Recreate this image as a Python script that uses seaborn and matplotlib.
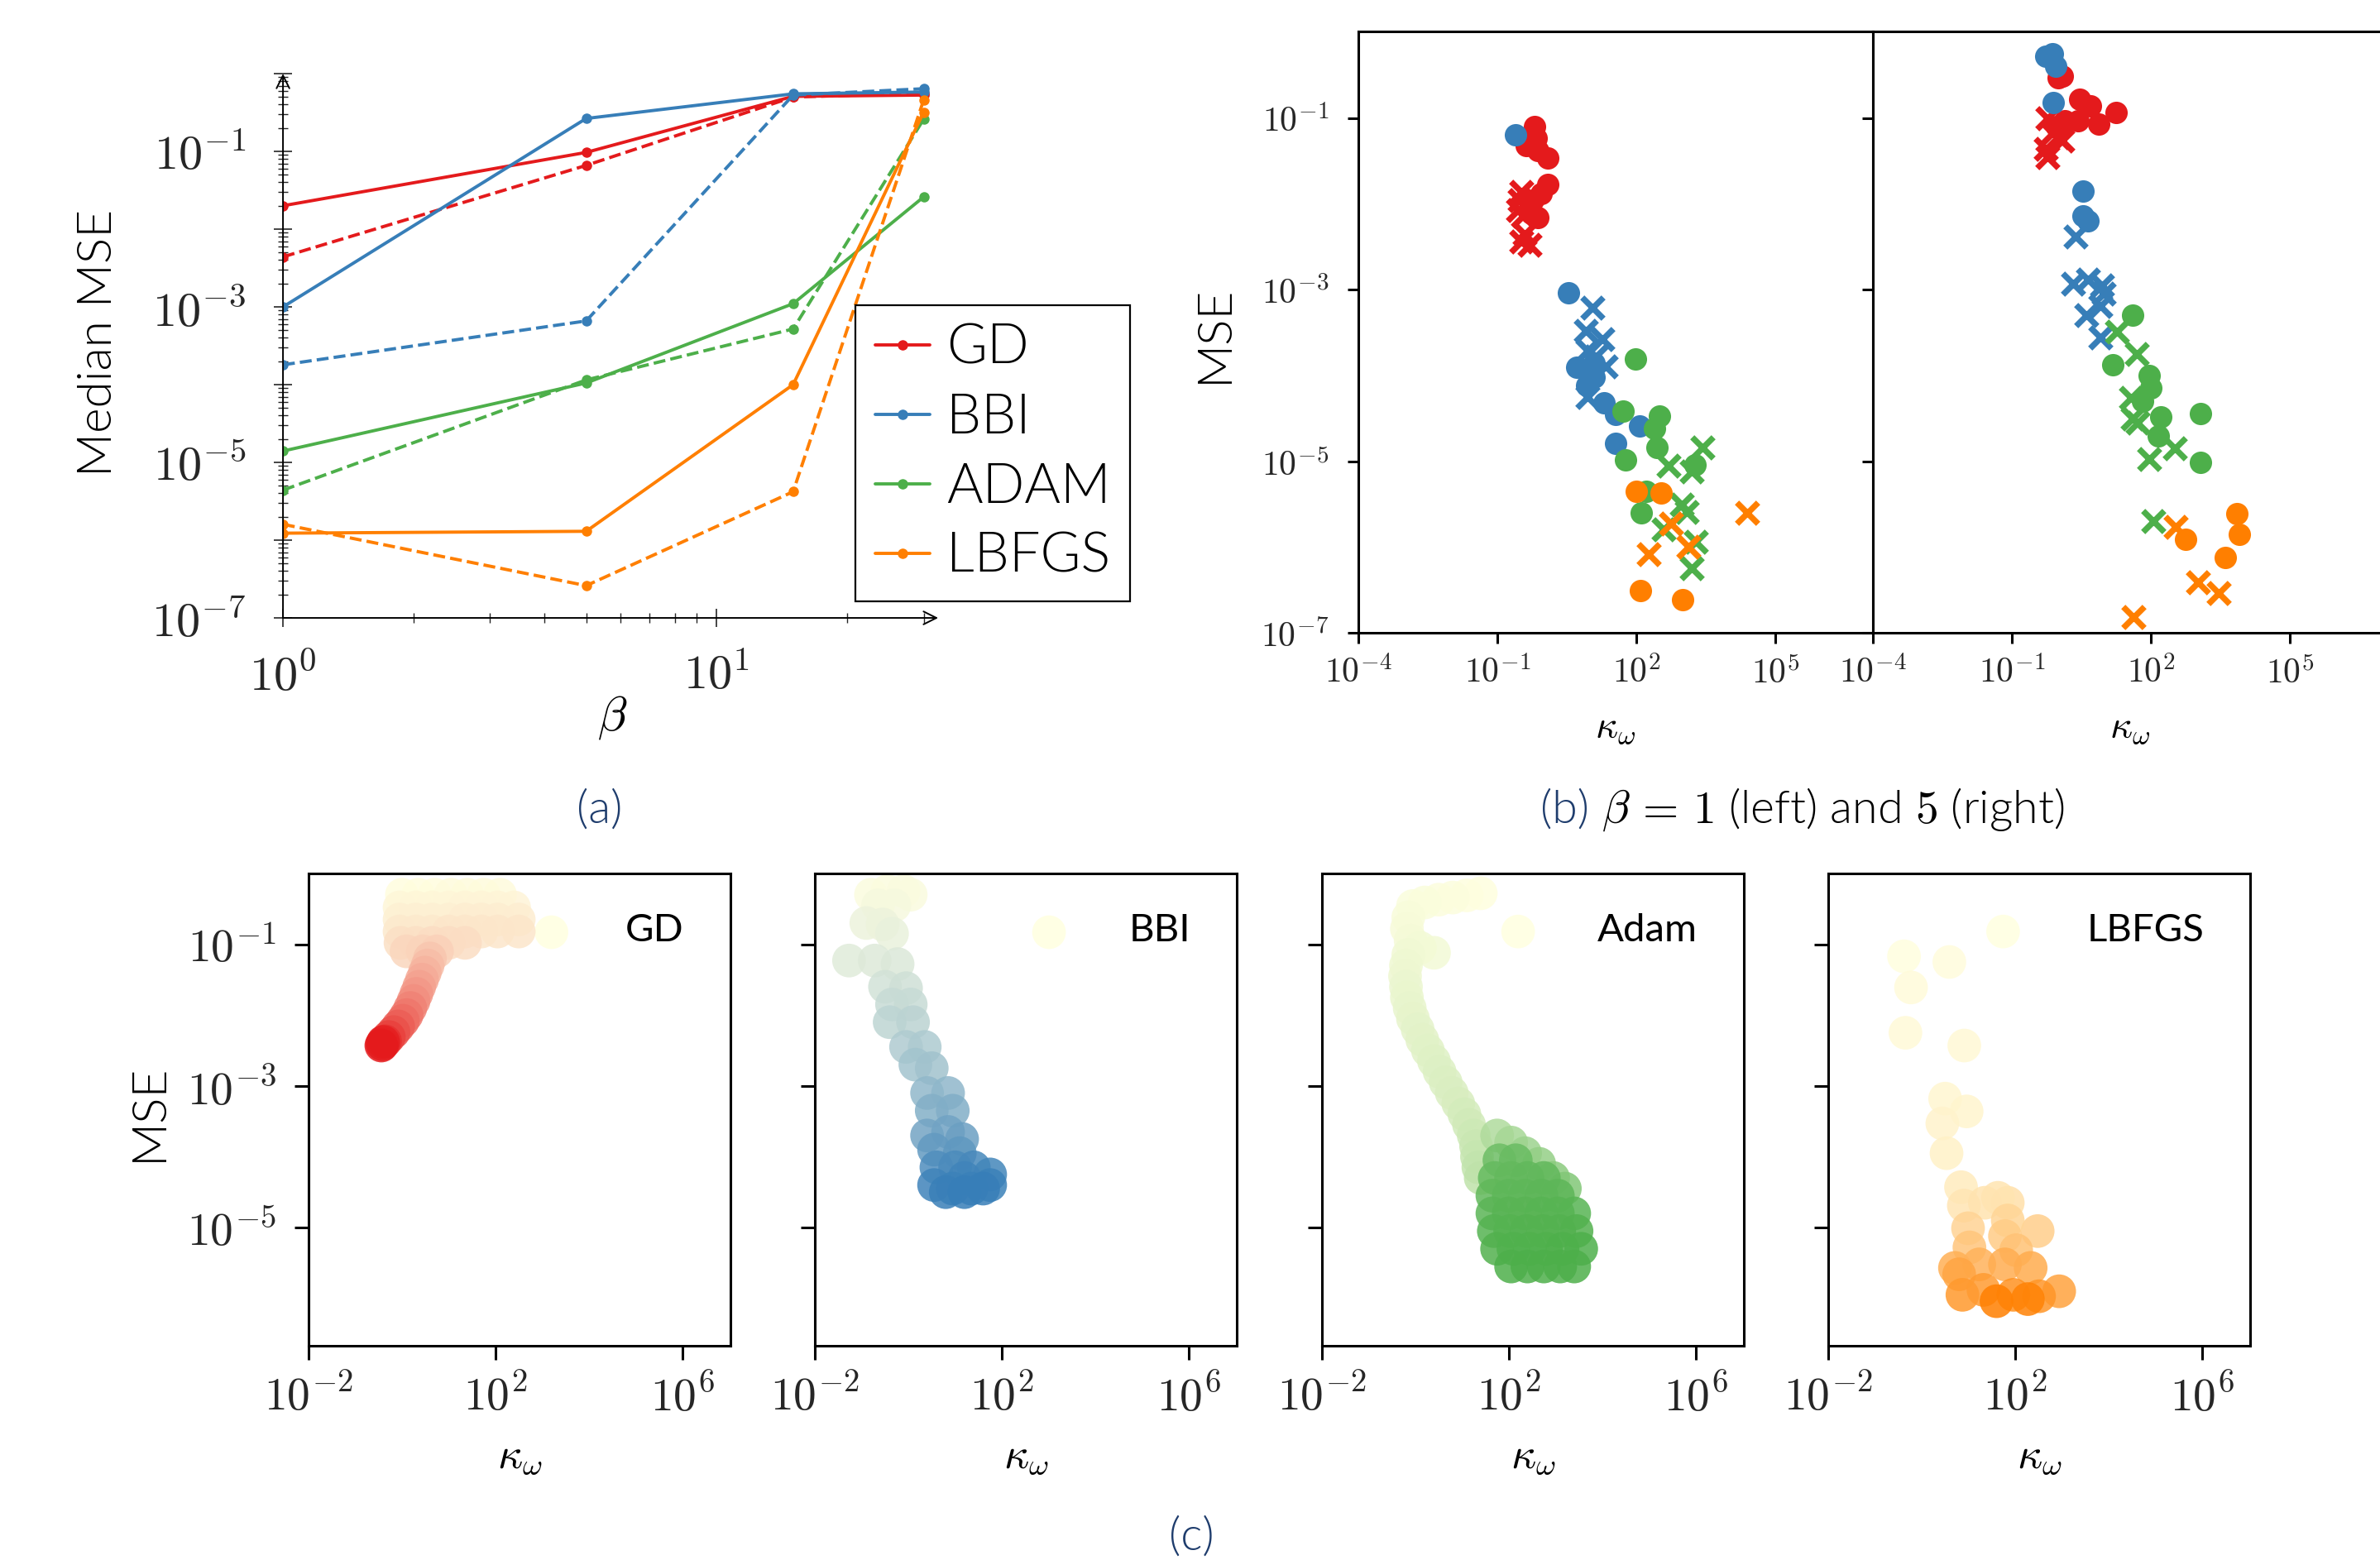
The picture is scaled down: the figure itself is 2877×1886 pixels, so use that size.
import numpy as np
import matplotlib
matplotlib.use("Agg")
import matplotlib.pyplot as plt
from matplotlib.colors import LinearSegmentedColormap
from matplotlib.ticker import LogLocator, FuncFormatter, NullLocator
import seaborn as sns

# ---------------- data ----------------
methods = ["GD", "BBI", "ADAM", "LBFGS"]
colors = ["#e41a1c", "#377eb8", "#4daf4a", "#ff7f00"]

# (a) median MSE vs beta, solid and dashed settings
beta = [1, 5, 15, 30]
gd_solid = [2.0e-2, 9.7e-2, 5.1e-1, 5.3e-1]
gd_dashed = [4.4e-3, 6.6e-2, 5.0e-1, 5.6e-1]
bbi_solid = [1.0e-3, 2.65e-1, 5.5e-1, 5.8e-1]
bbi_dashed = [1.8e-4, 6.6e-4, 5.3e-1, 6.4e-1]
adam_solid = [1.4e-5, 1.05e-4, 1.1e-3, 2.6e-2]
adam_dashed = [4.4e-6, 1.15e-4, 5.2e-4, 2.6e-1]
lbfgs_solid = [1.23e-6, 1.3e-6, 1.0e-4, 3.2e-1]
lbfgs_dashed = [1.6e-6, 2.6e-7, 4.2e-6, 4.6e-1]

# (b) log10(kappa), log10(MSE); beta = 1 (b1) and beta = 5 (b5); dots and crosses
b1_gd_dot_k = [-0.20, -0.16, -0.37, -0.13, 0.08, 0.08, -0.06, -0.23, -0.13, -0.27]
b1_gd_dot_m = [-1.10, -1.23, -1.32, -1.38, -1.46, -1.77, -1.88, -1.96, -2.16, -2.11]
b1_gd_x_k = [-0.48, -0.51, -0.55, -0.44, -0.41, -0.30, -0.48]
b1_gd_x_m = [-1.86, -1.96, -2.07, -2.14, -2.35, -2.48, -2.44]
b1_bbi_dot_k = [-0.60, 0.54, 0.71, 0.92, 1.09, 1.09, 1.30, 1.55, 2.07, 1.55]
b1_bbi_dot_m = [-1.19, -3.04, -3.90, -4.12, -4.02, -3.86, -4.32, -4.45, -4.59, -4.79]
b1_bbi_x_k = [1.06, 0.91, 1.27, 0.95, 1.13, 1.34, 0.95]
b1_bbi_x_m = [-3.21, -3.48, -3.58, -3.71, -3.78, -3.89, -4.25]
b1_adam_dot_k = [1.98, 1.72, 2.49, 2.39, 2.45, 1.77, 3.26, 2.21, 2.11]
b1_adam_dot_m = [-3.81, -4.42, -4.47, -4.62, -4.84, -4.98, -5.04, -5.35, -5.60]
b1_adam_x_k = [3.42, 2.70, 3.19, 2.98, 3.08, 2.59, 3.29, 3.19]
b1_adam_x_m = [-4.84, -5.05, -5.12, -5.51, -5.59, -5.79, -5.94, -6.25]
b1_lbfgs_dot_k = [2.00, 2.54, 2.09, 3.00]
b1_lbfgs_dot_m = [-5.35, -5.37, -6.51, -6.61]
b1_lbfgs_x_k = [4.39, 2.75, 2.27, 3.12]
b1_lbfgs_x_m = [-5.60, -5.73, -6.08, -6.00]

b5_gd_dot_k = [0.08, 0.00, 0.46, 0.70, 1.24, 0.88, 0.43, 0.15, -0.03]
b5_gd_dot_m = [-0.51, -0.53, -0.78, -0.86, -0.93, -1.07, -1.03, -1.03, -1.10]
b5_gd_x_k = [-0.24, -0.13, 0.08, -0.27, -0.24, 0.00]
b5_gd_x_m = [-1.00, -1.17, -1.26, -1.36, -1.45, -1.22]
b5_bbi_dot_k = [-0.27, -0.13, -0.06, -0.10, 0.54, 0.53, 0.65]
b5_bbi_dot_m = [-0.28, -0.25, -0.39, -0.82, -1.85, -2.14, -2.20]
b5_bbi_x_k = [0.37, 0.32, 0.65, 0.95, 0.98, 0.91, 0.60, 0.91]
b5_bbi_x_m = [-2.38, -2.93, -2.88, -2.95, -3.05, -3.19, -3.30, -3.56]
b5_adam_dot_k = [1.61, 1.18, 1.96, 2.00, 1.82, 2.22, 3.06, 2.16, 3.06]
b5_adam_dot_m = [-3.30, -3.88, -4.00, -4.15, -4.30, -4.48, -4.44, -4.70, -5.01]
b5_adam_x_k = [1.26, 1.69, 1.57, 1.61, 1.71, 2.52, 1.97, 2.06]
b5_adam_x_m = [-3.49, -3.75, -4.26, -4.50, -4.55, -4.85, -4.97, -5.70]
b5_lbfgs_dot_k = [3.86, 3.91, 2.74, 3.61]
b5_lbfgs_dot_m = [-5.61, -5.85, -5.91, -6.12]
b5_lbfgs_x_k = [2.53, 3.02, 3.46, 1.63]
b5_lbfgs_x_m = [-5.77, -6.41, -6.54, -6.82]

# (c) training trajectories: (log10 kappa, log10 MSE, iteration %)
gd_traj = [
    (3.20, -0.83, 0),
    (0.00, -0.30, 1), (0.35, -0.30, 1), (0.70, -0.30, 1), (1.05, -0.30, 2), (1.40, -0.30, 2), (1.75, -0.30, 2), (2.10, -0.30, 2),
    (-0.05, -0.48, 4), (0.30, -0.48, 4), (0.65, -0.48, 4), (1.00, -0.48, 4), (1.35, -0.48, 5), (1.70, -0.48, 5), (2.05, -0.48, 5), (2.40, -0.48, 5),
    (-0.05, -0.65, 7), (0.30, -0.65, 7), (0.65, -0.65, 7), (1.00, -0.65, 7), (1.35, -0.65, 8), (1.70, -0.65, 8), (2.05, -0.65, 8), (2.50, -0.65, 8),
    (-0.05, -0.82, 10), (0.30, -0.82, 10), (0.65, -0.82, 10), (1.00, -0.82, 11), (1.35, -0.82, 11), (1.70, -0.82, 11), (2.05, -0.82, 11), (2.50, -0.82, 11),
    (-0.03, -0.98, 14), (0.30, -0.98, 14), (0.65, -0.98, 15), (1.00, -0.98, 15), (1.35, -0.98, 15),
    (0.10, -1.10, 18), (0.45, -1.10, 19), (0.75, -1.10, 20),
    (0.60, -1.20, 25), (0.55, -1.30, 29), (0.49, -1.40, 33), (0.43, -1.50, 37), (0.37, -1.60, 41), (0.31, -1.70, 45),
    (0.25, -1.80, 49), (0.18, -1.90, 54), (0.10, -2.00, 59), (0.02, -2.08, 64), (-0.08, -2.16, 70), (-0.18, -2.24, 76),
    (-0.28, -2.31, 83), (-0.36, -2.37, 90), (-0.42, -2.41, 95), (-0.40, -2.38, 98), (-0.44, -2.43, 100),
]
bbi_traj = [
    (3.01, -0.83, 0),
    (-0.80, -0.30, 2), (-0.45, -0.25, 2), (-0.10, -0.25, 3), (0.05, -0.30, 3), (-0.65, -0.45, 5), (-0.30, -0.45, 5),
    (-0.90, -0.70, 9), (-0.55, -0.72, 9), (-0.35, -0.85, 11),
    (-1.27, -1.23, 16), (-0.72, -1.23, 17), (-0.23, -1.28, 18),
    (-0.50, -1.60, 23), (-0.05, -1.62, 24), (-0.35, -1.85, 28), (0.05, -1.85, 28),
    (-0.40, -2.10, 33), (0.10, -2.10, 34),
    (-0.05, -2.45, 40), (0.35, -2.45, 41), (0.15, -2.70, 46), (0.50, -2.75, 47),
    (0.40, -3.10, 55), (0.85, -3.10, 56), (0.50, -3.35, 62), (0.95, -3.35, 63),
    (0.40, -3.70, 70), (0.85, -3.65, 71), (1.15, -3.75, 74), (0.55, -3.90, 78), (1.10, -3.95, 80),
    (0.60, -4.15, 88), (1.00, -4.15, 90), (1.40, -4.15, 92), (1.75, -4.25, 94), (1.20, -4.30, 95),
    (0.55, -4.40, 96), (0.95, -4.45, 97), (1.35, -4.45, 98), (1.75, -4.40, 98), (0.80, -4.50, 99),
    (1.20, -4.50, 100), (1.60, -4.45, 100),
]
adam_traj = [
    (2.20, -0.82, 0),
    (1.40, -0.28, 1), (1.10, -0.31, 1), (0.80, -0.34, 2), (0.50, -0.37, 2), (0.20, -0.41, 3), (-0.05, -0.46, 3),
    (-0.15, -0.62, 4), (-0.18, -0.78, 5), (-0.10, -0.95, 6), (0.10, -1.05, 7), (0.40, -1.12, 7), (-0.15, -1.15, 8),
    (-0.20, -1.30, 9), (-0.22, -1.45, 10), (-0.20, -1.60, 11), (-0.18, -1.75, 12), (-0.12, -1.90, 13), (-0.05, -2.05, 14),
    (0.05, -2.20, 15), (0.15, -2.35, 16), (0.27, -2.50, 17), (0.40, -2.65, 18), (0.52, -2.80, 19), (0.65, -2.95, 20),
    (0.78, -3.10, 21), (0.92, -3.25, 22), (1.05, -3.40, 24), (1.15, -3.55, 26), (1.25, -3.70, 28), (1.30, -3.85, 30),
    (1.32, -4.00, 32), (1.35, -4.15, 34), (1.40, -4.30, 36),
    (1.75, -3.70, 45), (2.05, -3.80, 50), (2.35, -3.95, 55), (2.65, -4.10, 60), (2.95, -4.30, 65), (3.20, -4.45, 70),
    (1.80, -4.05, 82), (2.15, -4.05, 84),
    (1.70, -4.30, 86), (2.05, -4.30, 87), (2.40, -4.30, 88), (2.75, -4.30, 88),
    (1.65, -4.55, 89), (2.00, -4.55, 90), (2.35, -4.55, 90), (2.70, -4.55, 91), (3.05, -4.55, 91),
    (1.65, -4.80, 92), (2.00, -4.80, 93), (2.35, -4.80, 93), (2.70, -4.80, 94), (3.05, -4.80, 94), (3.40, -4.80, 94),
    (1.68, -5.05, 95), (2.03, -5.05, 95), (2.38, -5.05, 96), (2.73, -5.05, 96), (3.08, -5.05, 96), (3.45, -5.05, 97),
    (1.75, -5.30, 97), (2.10, -5.30, 98), (2.45, -5.30, 98), (2.80, -5.30, 98), (3.15, -5.30, 99), (3.55, -5.30, 99),
    (2.05, -5.55, 100), (2.40, -5.55, 100), (2.75, -5.55, 100), (3.10, -5.55, 100), (3.40, -5.55, 100),
]
lbfgs_traj = [
    (1.74, -0.82, 0), (-0.38, -1.17, 1), (0.59, -1.25, 2), (-0.23, -1.61, 3), (-0.35, -2.25, 4),
    (0.91, -2.43, 5), (0.50, -3.18, 7), (0.96, -3.36, 8), (0.44, -3.53, 9), (0.53, -3.95, 11),
    (0.84, -4.43, 16), (0.90, -4.69, 20), (1.35, -4.65, 22), (1.84, -4.65, 24), (1.63, -4.58, 21),
    (2.48, -5.05, 38), (0.99, -5.01, 34), (1.84, -4.90, 33), (1.78, -5.12, 40), (1.02, -5.28, 45),
    (2.02, -5.32, 48), (0.71, -5.57, 62), (1.23, -5.52, 60), (2.33, -5.57, 65), (1.78, -5.52, 64),
    (0.80, -5.66, 70), (0.87, -5.95, 80), (1.32, -5.88, 78), (2.94, -5.90, 72), (2.51, -5.97, 82),
    (1.96, -5.95, 85), (1.60, -6.04, 100), (2.27, -6.01, 98),
]

panel_c_names = ["GD", "BBI", "Adam", "LBFGS"]

# ---------------- style ----------------
sns.set_style("ticks")
plt.rcParams["font.family"] = ["Lato", "DejaVu Sans"]
plt.rcParams["mathtext.fontset"] = "cm"
plt.rcParams["text.color"] = "black"
caption_blue = "#1f3d6d"
light = 300


def pow10(v, pos):
    return r"$10^{%d}$" % int(round(np.log10(v)))


def odd_pow10(v, pos):
    e = int(round(np.log10(v)))
    return r"$10^{%d}$" % e if e % 2 == 1 else ""


def x_pow10(v, pos):
    e = int(round(np.log10(v)))
    return r"$10^{%d}$" % e if e in (0, 1) else ""


fig = plt.figure(figsize=(2877 / 200, 1886 / 200), dpi=200)

# ---------------- (a) ----------------
ax = fig.add_axes([0.1189, 0.6039, 0.2753, 0.3489])
ax.set_xscale("log")
ax.set_yscale("log")
solid = [gd_solid, bbi_solid, adam_solid, lbfgs_solid]
dashed = [gd_dashed, bbi_dashed, adam_dashed, lbfgs_dashed]
handles = []
for name, c, ys, yd in zip(methods, colors, solid, dashed):
    sns.lineplot(x=beta, y=ys, ax=ax, color=c, marker="o", markersize=4.5,
                 markeredgewidth=0, linewidth=1.4)
    handles.append(ax.lines[-1])
    sns.lineplot(x=beta, y=yd, ax=ax, color=c, marker="o", markersize=4.5,
                 markeredgewidth=0, linewidth=1.4, linestyle="--")
ax.set_xlim(1, 32.4)
ax.set_ylim(1e-7, 1)
for s in ax.spines.values():
    s.set_visible(False)
arrow = dict(arrowstyle="->", lw=0.7, color="black", shrinkA=0, shrinkB=0, mutation_scale=14)
ax.annotate("", xy=(1, 0), xytext=(0, 0), xycoords="axes fraction", textcoords="axes fraction", arrowprops=arrow)
ax.annotate("", xy=(0, 1), xytext=(0, 0), xycoords="axes fraction", textcoords="axes fraction", arrowprops=arrow)
ax.yaxis.set_major_locator(LogLocator(base=10, numticks=20))
ax.yaxis.set_minor_locator(LogLocator(base=10, subs=np.arange(2, 10), numticks=20))
ax.yaxis.set_major_formatter(FuncFormatter(odd_pow10))
ax.xaxis.set_major_locator(LogLocator(base=10, numticks=10))
ax.xaxis.set_minor_locator(LogLocator(base=10, subs=np.arange(2, 10), numticks=10))
ax.xaxis.set_major_formatter(FuncFormatter(x_pow10))
ax.tick_params(which="major", direction="inout", length=8, width=0.6, labelsize=21)
ax.tick_params(which="minor", direction="inout", length=4.5, width=0.5)
ax.tick_params(axis="y", which="major", pad=12)
ax.tick_params(axis="x", which="major", pad=11)
leg = ax.legend(handles, methods, loc="lower left", bbox_to_anchor=(0.874, 0.030), borderaxespad=0,
                frameon=True, fancybox=False, framealpha=1, edgecolor="black",
                prop={"size": 24, "weight": light}, handlelength=1.0, handletextpad=0.3,
                labelspacing=0.36, borderpad=0.35)
leg.get_frame().set_linewidth(0.8)
fig.text(0.0417, 0.78, "Median MSE", rotation=90, ha="center", va="center", fontsize=21, fontweight=light)
fig.text(0.2572, 0.5398, r"$\beta$", ha="center", va="center", fontsize=21)

# ---------------- (b) ----------------
b1_groups = [
    (b1_gd_dot_k, b1_gd_dot_m, b1_gd_x_k, b1_gd_x_m),
    (b1_bbi_dot_k, b1_bbi_dot_m, b1_bbi_x_k, b1_bbi_x_m),
    (b1_adam_dot_k, b1_adam_dot_m, b1_adam_x_k, b1_adam_x_m),
    (b1_lbfgs_dot_k, b1_lbfgs_dot_m, b1_lbfgs_x_k, b1_lbfgs_x_m),
]
b5_groups = [
    (b5_gd_dot_k, b5_gd_dot_m, b5_gd_x_k, b5_gd_x_m),
    (b5_bbi_dot_k, b5_bbi_dot_m, b5_bbi_x_k, b5_bbi_x_m),
    (b5_adam_dot_k, b5_adam_dot_m, b5_adam_x_k, b5_adam_x_m),
    (b5_lbfgs_dot_k, b5_lbfgs_dot_m, b5_lbfgs_x_k, b5_lbfgs_x_m),
]
for i, groups in enumerate([b1_groups, b5_groups]):
    bx = fig.add_axes([0.5707 + i * 0.2162, 0.5944, 0.2162, 0.3855])
    bx.set_xscale("log")
    bx.set_yscale("log")
    for c, (dk, dm, xk, xm) in zip(colors, groups):
        sns.scatterplot(x=10.0 ** np.array(dk), y=10.0 ** np.array(dm), ax=bx, color=c,
                        marker="o", s=95, linewidth=0)
        sns.scatterplot(x=10.0 ** np.array(xk), y=10.0 ** np.array(xm), ax=bx, color=c,
                        marker="x", s=85, linewidth=2.6)
    bx.set_xlim(1e-4, 10 ** 7.1)
    bx.set_ylim(1e-7, 1.03)
    bx.set_xticks([1e-4, 1e-1, 1e2, 1e5])
    bx.set_yticks([1e-7, 1e-5, 1e-3, 1e-1])
    bx.xaxis.set_minor_locator(NullLocator())
    bx.yaxis.set_minor_locator(NullLocator())
    bx.xaxis.set_major_formatter(FuncFormatter(pow10))
    bx.yaxis.set_major_formatter(FuncFormatter(pow10))
    for s in bx.spines.values():
        s.set_linewidth(1.1)
        s.set_color("black")
    bx.tick_params(direction="out", length=4.7, width=1.1, labelsize=15, color="black")
    bx.tick_params(axis="x", pad=5)
    bx.tick_params(axis="y", pad=8, labelleft=(i == 0))
    fig.text(0.5707 + i * 0.2162 + 0.1081, 0.5329, r"$\kappa_\omega$", ha="center", va="center", fontsize=17)
fig.text(0.5103, 0.7858, "MSE", rotation=90, ha="center", va="center", fontsize=21, fontweight=light)

# ---------------- (c) ----------------
trajs = [gd_traj, bbi_traj, adam_traj, lbfgs_traj]
c_lefts = [0.1296, 0.3424, 0.5554, 0.7682]
for i, (left, name, c, tr) in enumerate(zip(c_lefts, panel_c_names, colors, trajs)):
    cx = fig.add_axes([left, 0.1373, 0.1773, 0.3028])
    cx.set_xscale("log")
    cx.set_yscale("log")
    tk, tm, ti = (np.array(v, dtype=float) for v in zip(*tr))
    cmap = LinearSegmentedColormap.from_list(name, ["#ffffe0", c])
    sns.scatterplot(x=10.0 ** tk, y=10.0 ** tm, hue=ti, palette=cmap,
                    hue_norm=(0, 100), s=215, alpha=0.85, linewidth=0, legend=False, ax=cx)
    cx.set_xlim(1e-2, 10 ** 7.03)
    cx.set_ylim(10 ** -6.67, 1)
    cx.set_xticks([1e-2, 1e2, 1e6])
    cx.set_yticks([1e-5, 1e-3, 1e-1])
    cx.xaxis.set_minor_locator(NullLocator())
    cx.yaxis.set_minor_locator(NullLocator())
    cx.xaxis.set_major_formatter(FuncFormatter(pow10))
    cx.yaxis.set_major_formatter(FuncFormatter(pow10))
    for s in cx.spines.values():
        s.set_linewidth(1.1)
        s.set_color("black")
    cx.tick_params(direction="out", length=6, width=1.1, labelsize=20, color="black")
    cx.tick_params(axis="x", pad=6)
    cx.tick_params(axis="y", pad=8, labelleft=(i == 0))
    cx.text(0.89, 0.88, name, transform=cx.transAxes, ha="right", va="center", fontsize=17)
    fig.text(left + 0.0887, 0.0657, r"$\kappa_\omega$", ha="center", va="center", fontsize=19)
fig.text(0.0626, 0.2868, "MSE", rotation=90, ha="center", va="center", fontsize=21, fontweight=light)

# ---------------- captions ----------------
fig.text(0.252, 0.4725, "(a)", ha="center", va="baseline", fontsize=20, fontweight=light, color=caption_blue)
fig.text(0.6677, 0.4725, "(b)", ha="right", va="baseline", fontsize=20, fontweight=light, color=caption_blue)
fig.text(0.6729, 0.4725, r"$\beta\,=\,1$ (left) and $5$ (right)", ha="left", va="baseline",
         fontsize=20, fontweight=light, color="black")
fig.text(0.5005, 0.0064, "(c)", ha="center", va="baseline", fontsize=20, fontweight=light, color=caption_blue)

fig.savefig("out.png", dpi=200)
